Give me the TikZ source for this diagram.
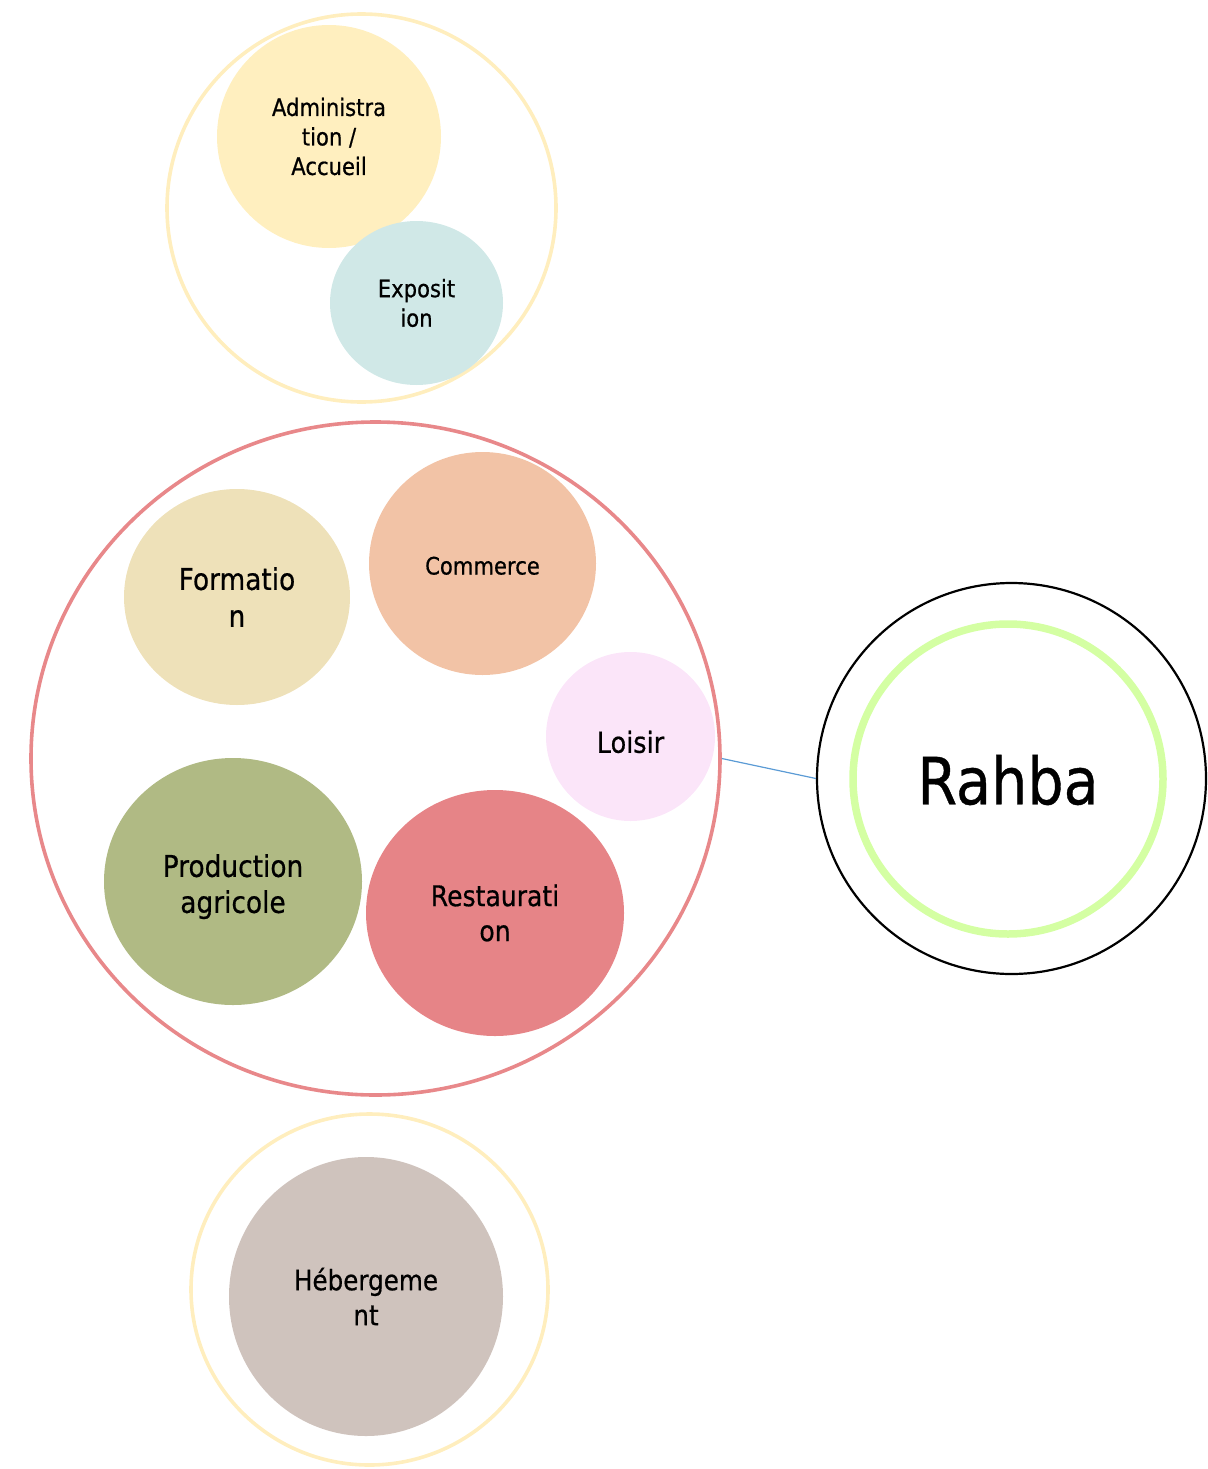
\documentclass[tikz,border=0pt]{standalone}
\usepackage{fontspec}
\setmainfont[FakeStretch=0.88,FakeBold=0.6]{DejaVu Sans}
\usetikzlibrary{shapes.geometric}
\definecolor{ringyellow}{HTML}{FFEEBE}
\definecolor{adminfill}{HTML}{FFEFBF}
\definecolor{expofill}{HTML}{D0E8E7}
\definecolor{ringred}{HTML}{E8888A}
\definecolor{formfill}{HTML}{EEE1B9}
\definecolor{commfill}{HTML}{F2C3A6}
\definecolor{loisfill}{HTML}{FBE5F9}
\definecolor{prodfill}{HTML}{B0BA84}
\definecolor{restfill}{HTML}{E68487}
\definecolor{hebfill}{HTML}{CFC3BD}
\definecolor{ringgreen}{HTML}{D4FFA3}
\definecolor{linkblue}{HTML}{5B9BD5}
\tikzset{
  blob/.style={ellipse, inner sep=0pt, align=center, text=black},
  small/.style={font=\fontsize{24}{29.5}\selectfont},
  large/.style={font=\fontsize{29}{36}\selectfont},
  ring/.style={ellipse, inner sep=0pt, line width=3.6pt}
}
\begin{document}
\begin{tikzpicture}[x=1pt,y=-1pt]
\useasboundingbox (0,0) rectangle (1207,1469);
% top group
\node[ring, draw=ringyellow, minimum width=389pt, minimum height=388pt] (topring) at (361.5,208) {};
\node[blob, small, fill=adminfill, minimum width=224pt, minimum height=223pt] (admin) at (329,136.5) {Administra\\tion /\\Accueil};
\node[blob, small, fill=expofill, minimum width=173pt, minimum height=164pt] (expo) at (416.5,303) {Exposit\\ion};
% middle group
\node[ring, draw=ringred, minimum width=689pt, minimum height=673pt] (zone) at (375.5,758.5) {};
\node[blob, large, font=\fontsize{30}{37}\selectfont, fill=formfill, minimum width=226pt, minimum height=216pt] (form) at (237,597) {Formatio\\n};
\node[blob, small, fill=commfill, minimum width=227pt, minimum height=223pt] (comm) at (482.5,563.5) {\raisebox{-5pt}[0.75em][0.25em]{Commerce}};
\node[blob, large, fill=loisfill, minimum width=169pt, minimum height=169pt] (lois) at (630.5,736.5) {\raisebox{-9pt}[0.75em][0.25em]{Loisir}};
\node[blob, large, font=\fontsize{30}{36}\selectfont, fill=prodfill, minimum width=258pt, minimum height=247pt] (prod) at (233,881.5) {\rule{0pt}{33pt}Production\\agricole};
\node[blob, large, font=\fontsize{28.5}{35}\selectfont, fill=restfill, minimum width=258pt, minimum height=246pt] (rest) at (495,913) {Restaurati\\on};
% Rahba
\node[ellipse, inner sep=0pt, draw=black, line width=2.2pt, minimum width=389pt, minimum height=391pt] (rahba) at (1011.5,778.5) {};
\node[ellipse, inner sep=0pt, draw=ringgreen, line width=7.5pt, minimum width=310pt, minimum height=310pt, font=\fontsize{65}{72}\selectfont] (rahbain) at (1008,779) {\raisebox{-9pt}[0.75em][0.25em]{Rahba}};
\draw[linkblue, line width=1.2pt] (zone.east) -- (rahba.west);
% bottom group
\node[ring, draw=ringyellow, minimum width=357pt, minimum height=351pt] (botring) at (369.5,1289.5) {};
\node[blob, large, font=\fontsize{28}{35}\selectfont, fill=hebfill, minimum width=274pt, minimum height=279pt] (heb) at (366,1296.5) {Hébergeme\\nt};
\end{tikzpicture}
\end{document}
